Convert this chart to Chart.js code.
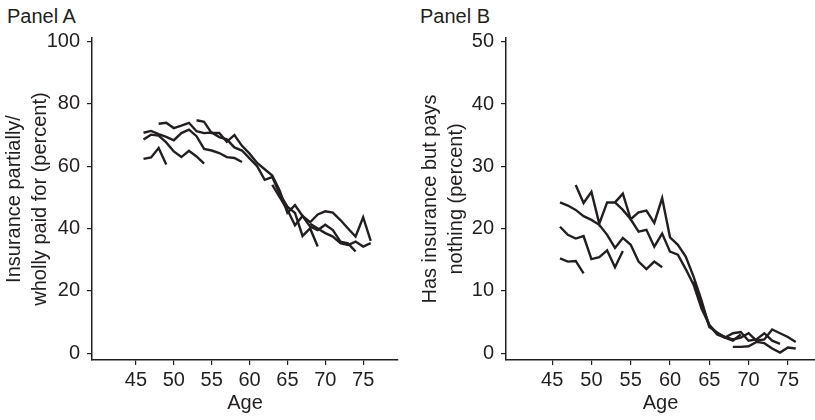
<!DOCTYPE html>
<html>
<head>
<meta charset="utf-8">
<script src="https://cdn.jsdelivr.net/npm/chart.js@4.4.1/dist/chart.umd.min.js"></script>
<style>
  body { margin: 0; background: #fff; width: 815px; height: 420px; position: relative; overflow: hidden; font-family: "Liberation Sans", Arial, sans-serif; }
  .panel-label { position: absolute; top: 4px; font-size: 20px; line-height: 24px; color: #231f20; }
  canvas { position: absolute; top: 0; }
</style>
</head>
<body>
<div class="panel-label" style="left:7px">Panel A</div>
<div class="panel-label" style="left:420px">Panel B</div>
<canvas id="chartA" width="405" height="420" style="left:0"></canvas>
<canvas id="chartB" width="410" height="420" style="left:405px"></canvas>
<script>
const xTicks = [45, 50, 55, 60, 65, 70, 75];
const yTicksA = [0, 20, 40, 60, 80, 100];
const yTicksB = [0, 10, 20, 30, 40, 50];
const titleA = ['Insurance partially/', 'wholly paid for (percent)'];
const titleB = ['Has insurance but pays', 'nothing (percent)'];

// Panel A: insurance partially / wholly paid for, one line per cohort
const agesA1 = [46, 47, 48, 49];
const paidA1 = [62.3, 62.8, 65.8, 60.5];
const agesA2 = [46, 47, 48, 49, 50, 51, 52, 53, 54];
const paidA2 = [68.5, 70.1, 69.8, 67.6, 64.7, 62.9, 64.9, 63.1, 60.8];
const agesA3 = [46, 47, 48, 49, 50, 51, 52, 53, 54, 55, 56, 57, 58, 59];
const paidA3 = [70.7, 71.3, 70.3, 69.4, 68.3, 70.6, 71.7, 69.6, 65.5, 65.0, 64.2, 62.9, 62.6, 61.3];
const agesA4 = [48, 49, 50, 51, 52, 53, 54, 55, 56, 57, 58, 59, 60, 61, 62, 63, 64, 65, 66, 67, 68, 69];
const paidA4 = [73.6, 73.9, 72.2, 73.0, 73.9, 71.2, 70.6, 70.8, 69.3, 68.6, 66.0, 65.0, 62.5, 60.0, 55.6, 56.5, 51.0, 47.0, 45.0, 37.6, 40.0, 34.2];
const agesA5 = [53, 54, 55, 56, 57, 58, 59, 60, 61, 62, 63, 64, 65, 66, 67, 68, 69, 70, 71, 72, 73, 74];
const paidA5 = [74.7, 74.2, 70.6, 70.6, 67.8, 70.0, 66.5, 64.0, 61.0, 59.0, 57.0, 52.0, 45.0, 47.5, 44.0, 40.6, 39.5, 41.2, 39.5, 35.8, 35.2, 32.6];
const agesA6 = [63, 64, 65, 66, 67, 68, 69, 70, 71, 72, 73, 74, 75, 76];
const paidA6 = [54.0, 50.0, 46.0, 41.0, 44.0, 42.0, 44.5, 45.5, 45.1, 42.7, 40.0, 37.4, 43.6, 36.0];
const agesA7 = [68, 69, 70, 71, 72, 73, 74, 75, 76];
const paidA7 = [41.5, 40.0, 38.5, 37.4, 35.3, 34.7, 35.8, 34.2, 35.3];

// Panel B: has insurance but pays nothing
const agesB1 = [46, 47, 48, 49];
const freeB1 = [15.2, 14.7, 14.8, 12.8];
const agesB2 = [46, 47, 48, 49, 50, 51, 52, 53, 54];
const freeB2 = [20.3, 19.0, 18.4, 18.8, 15.1, 15.4, 16.5, 13.8, 16.4];
const agesB3 = [46, 47, 48, 49, 50, 51, 52, 53, 54, 55, 56, 57, 58, 59];
const freeB3 = [24.2, 23.7, 23.0, 22.0, 21.4, 20.6, 19.0, 16.9, 18.5, 17.4, 14.7, 13.5, 14.7, 13.8];
const agesB4 = [48, 49, 50, 51, 52, 53, 54, 55, 56, 57, 58, 59, 60, 61, 62, 63, 64, 65, 66, 67, 68, 69];
const freeB4 = [27.0, 24.1, 25.9, 20.8, 24.2, 24.2, 25.6, 21.5, 22.6, 22.9, 20.9, 24.9, 18.6, 17.4, 15.5, 12.3, 8.5, 4.2, 3.3, 2.5, 2.0, 3.0];
const agesB5 = [53, 54, 55, 56, 57, 58, 59, 60, 61, 62, 63, 64, 65, 66, 67, 68, 69, 70, 71, 72, 73, 74];
const freeB5 = [24.2, 23.0, 21.5, 19.5, 19.8, 17.1, 19.2, 16.3, 15.8, 13.5, 11.0, 7.2, 4.5, 3.0, 2.5, 3.2, 3.4, 2.0, 2.2, 3.2, 2.0, 1.5];
const agesB6 = [63, 64, 65, 66, 67, 68, 69, 70, 71, 72, 73, 74, 75, 76];
const freeB6 = [11.5, 8.0, 4.5, 3.2, 2.6, 2.2, 2.5, 3.2, 2.0, 2.2, 3.8, 3.2, 2.6, 1.8];
const agesB7 = [68, 69, 70, 71, 72, 73, 74, 75, 76];
const freeB7 = [1.0, 1.0, 1.1, 1.8, 1.6, 0.75, 0.1, 0.9, 0.75];

const ink = '#231f20';
Chart.defaults.font.family = '"Liberation Sans", Arial, sans-serif';
Chart.defaults.color = ink;

function toPoints(ages, vals) {
    return ages.map(function(a, i) { return { x: a, y: vals[i] }; });
}

function makeChart(id, lines, opts) {
    const ctx = document.getElementById(id).getContext('2d');
    return new Chart(ctx, {
        type: 'line',
        data: {
            datasets: lines.map(function(l) {
                return {
                    data: toPoints(l[0], l[1]),
                    borderColor: ink,
                    borderWidth: 2.4,
                    pointRadius: 0,
                    tension: 0,
                    fill: false
                };
            })
        },
        options: {
            responsive: false,
            animation: false,
            devicePixelRatio: 1,
            layout: { padding: { top: 38, right: opts.padRight, left: 0, bottom: 0 } },
            plugins: { legend: { display: false }, tooltip: { enabled: false } },
            scales: {
                x: {
                    type: 'linear',
                    min: opts.xMin,
                    max: opts.xMax,
                    afterBuildTicks: function(scale) {
                        scale.ticks = xTicks.map(function(v) { return { value: v }; });
                    },
                    afterFit: function(scale) { scale.height = 60; },
                    grid: { drawOnChartArea: false, drawTicks: true, tickLength: 5, color: ink, lineWidth: 1.2 },
                    border: { display: true, color: ink, width: 1.5 },
                    ticks: { font: { size: 20 }, color: ink, padding: 3, maxRotation: 0, autoSkip: false },
                    title: { display: true, text: 'Age', font: { size: 20 }, color: ink, padding: { top: 0, bottom: 5 } }
                },
                y: {
                    min: opts.yMin,
                    max: opts.yMax,
                    afterBuildTicks: function(scale) {
                        scale.ticks = opts.yTicks.map(function(v) { return { value: v }; });
                    },
                    afterFit: function(scale) { scale.width = opts.yWidth; },
                    grid: { drawOnChartArea: false, drawTicks: true, tickLength: 5, color: ink, lineWidth: 1.2 },
                    border: { display: true, color: ink, width: 1.5 },
                    ticks: { font: { size: 20 }, color: ink, padding: 7, autoSkip: false },
                    title: { display: true, text: opts.yTitle, font: { size: 20, lineHeight: 1.3 }, color: ink, padding: { top: opts.titlePad, bottom: 0 } }
                }
            }
        }
    });
}

makeChart('chartA', [
    [agesA1, paidA1], [agesA2, paidA2], [agesA3, paidA3], [agesA4, paidA4],
    [agesA5, paidA5], [agesA6, paidA6], [agesA7, paidA7]
], { xMin: 39.2, xMax: 79.6, yMin: -2.2, yMax: 101.1, yTicks: yTicksA, yTitle: titleA, yWidth: 92, padRight: 7, titlePad: 1 });

makeChart('chartB', [
    [agesB1, freeB1], [agesB2, freeB2], [agesB3, freeB3], [agesB4, freeB4],
    [agesB5, freeB5], [agesB6, freeB6], [agesB7, freeB7]
], { xMin: 39.13, xMax: 78.45, yMin: -1.1, yMax: 50.6, yTicks: yTicksB, yTitle: titleB, yWidth: 101, padRight: 0, titlePad: 12 });
</script>
</body>
</html>
